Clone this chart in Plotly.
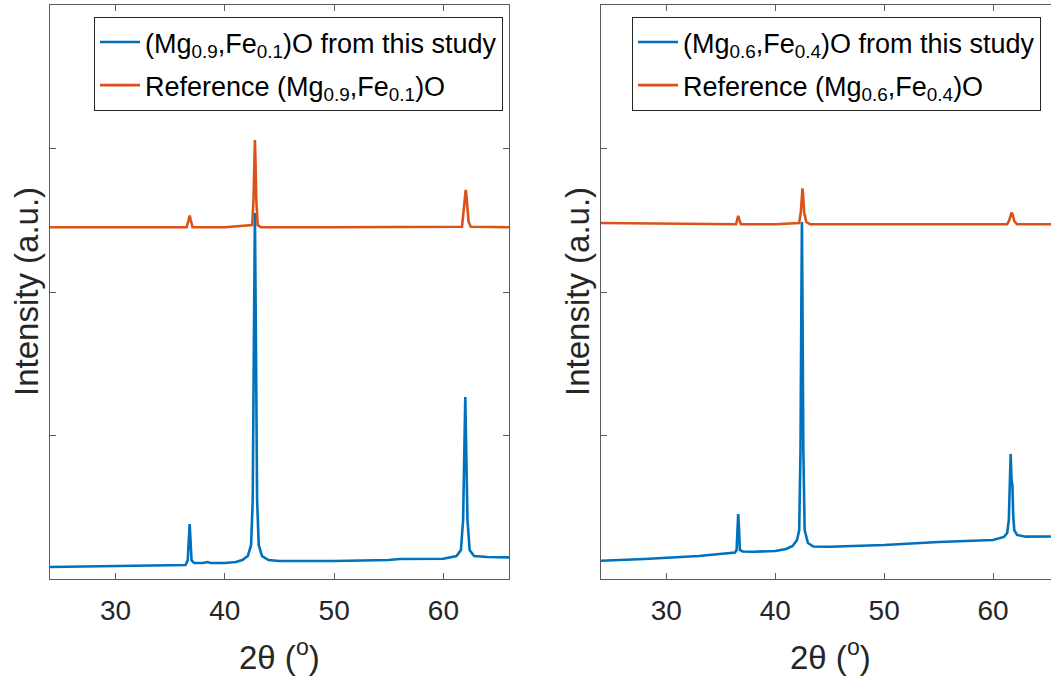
import plotly.graph_objects as go

# ---- (Mg0.9,Fe0.1)O panel -------------------------------------------------
two_theta_a_study = [24.0, 30.0, 35.0, 36.4, 36.6, 36.7, 36.78, 36.86, 36.95, 37.2,
                     38.0, 38.4, 38.7, 40.0, 41.0, 41.6, 42.1, 42.4, 42.55, 42.65,
                     42.75, 42.85, 42.95, 43.1, 43.4, 44.0, 45.0, 50.0, 55.0, 56.0,
                     60.0, 61.2, 61.6, 61.8, 61.9, 62.0, 62.1, 62.2, 62.4, 62.8,
                     64.0, 66.0]
intensity_a_study = [0.084, 0.091, 0.098, 0.098, 0.13, 0.27, 0.383, 0.27, 0.13, 0.111,
                     0.111, 0.118, 0.112, 0.111, 0.118, 0.132, 0.16, 0.237, 0.551, 1.596,
                     2.551, 1.596, 0.551, 0.237, 0.16, 0.132, 0.125, 0.125, 0.132, 0.139,
                     0.141, 0.16, 0.202, 0.411, 0.829, 1.268, 0.829, 0.411, 0.202, 0.16,
                     0.153, 0.151]

two_theta_a_ref = [24.0, 30.0, 36.5, 36.68, 36.78, 36.88, 37.05, 40.0, 42.5, 42.62,
                   42.7, 42.75, 42.8, 42.88, 43.0, 43.3, 50.0, 61.7, 61.9, 62.0,
                   62.04, 62.08, 62.15, 62.3, 62.5, 66.0]
intensity_a_ref = [2.451, 2.451, 2.451, 2.5, 2.532, 2.5, 2.451, 2.451, 2.467, 2.641,
                   2.92, 3.059, 2.92, 2.641, 2.467, 2.451, 2.451, 2.455, 2.606, 2.711,
                   2.711, 2.69, 2.629, 2.49, 2.455, 2.451]

# ---- (Mg0.6,Fe0.4)O panel -------------------------------------------------
two_theta_b_study = [24.0, 28.0, 33.0, 36.3, 36.45, 36.52, 36.6, 36.68, 36.75, 37.0,
                     38.0, 40.0, 41.0, 41.6, 42.0, 42.2, 42.32, 42.4, 42.45, 42.5,
                     42.58, 42.7, 43.0, 43.5, 45.0, 50.0, 55.0, 60.0, 61.0, 61.3,
                     61.45, 61.55, 61.62, 61.7, 61.78, 61.85, 61.95, 62.2, 63.0, 66.0]
intensity_b_study = [0.127, 0.139, 0.16, 0.185, 0.202, 0.341, 0.453, 0.341, 0.202, 0.192,
                     0.19, 0.195, 0.209, 0.23, 0.272, 0.341, 0.899, 1.944, 2.488, 1.944,
                     0.899, 0.341, 0.251, 0.226, 0.225, 0.237, 0.258, 0.272, 0.293, 0.321,
                     0.411, 0.69, 0.871, 0.69, 0.655, 0.446, 0.341, 0.307, 0.295, 0.296]

two_theta_b_ref = [24.0, 30.0, 36.4, 36.5, 36.6, 36.7, 36.85, 40.0, 42.2, 42.35,
                   42.45, 42.5, 42.56, 42.65, 42.85, 43.2, 50.0, 61.3, 61.5, 61.62,
                   61.7, 61.8, 61.95, 62.2, 66.0]
intensity_b_ref = [2.481, 2.476, 2.472, 2.502, 2.53, 2.502, 2.472, 2.472, 2.481, 2.557,
                   2.676, 2.723, 2.676, 2.557, 2.488, 2.472, 2.472, 2.472, 2.502, 2.544,
                   2.553, 2.54, 2.495, 2.472, 2.472]

labels_a = ["(Mg<sub>0.9</sub>,Fe<sub>0.1</sub>)O from this study",
            "Reference (Mg<sub>0.9</sub>,Fe<sub>0.1</sub>)O"]
labels_b = ["(Mg<sub>0.6</sub>,Fe<sub>0.4</sub>)O from this study",
            "Reference (Mg<sub>0.6</sub>,Fe<sub>0.4</sub>)O"]

x_ticks = [30, 40, 50, 60]
y_ticks = [0, 1, 2, 3, 4]

BLUE = "#0072BD"
ORANGE = "#D95319"
AXIS = "#5a5a5a"
TEXT = "#262626"
FONT = "Liberation Sans, Arial, sans-serif"

W, H = 1051, 680
left_px, bottom_px, top_px = 50, 579, 5

fig = go.Figure()

series = [
    (two_theta_a_study, intensity_a_study, BLUE, labels_a[0], "x", "y", "legend", "a1"),
    (two_theta_a_ref, intensity_a_ref, ORANGE, labels_a[1], "x", "y", "legend", "a2"),
    (two_theta_b_study, intensity_b_study, BLUE, labels_b[0], "x2", "y2", "legend2", "b1"),
    (two_theta_b_ref, intensity_b_ref, ORANGE, labels_b[1], "x2", "y2", "legend2", "b2"),
]
for xs, ys, color, name, xa, ya, leg, grp in series:
    fig.add_trace(go.Scatter(x=xs, y=ys, mode="lines",
                             line=dict(color=color, width=2.6), name=name,
                             xaxis=xa, yaxis=ya, legend=leg, legendgroup=grp))

y_dom = [(H - bottom_px) / H, (H - top_px) / H]

common_x = dict(showgrid=False, zeroline=False, showline=True, linecolor=AXIS,
                linewidth=1, ticks="inside", ticklen=6, tickcolor=AXIS,
                tickvals=x_ticks, tickfont=dict(size=28, color=TEXT, family=FONT),
                ticklabelstandoff=6, mirror="ticks")
common_y = dict(showgrid=False, zeroline=False, showline=True, linecolor=AXIS,
                linewidth=1, ticks="inside", ticklen=6, tickcolor=AXIS,
                tickvals=y_ticks, showticklabels=False, range=[0, 4], domain=y_dom)

legend_style = dict(y=1 - 17 / H, yanchor="top", xanchor="right",
                    bordercolor=TEXT, borderwidth=1, bgcolor="white",
                    font=dict(size=27, color="black", family=FONT),
                    tracegroupgap=5, itemwidth=40)

fig.update_layout(
    width=W, height=H,
    margin=dict(l=0, r=0, t=0, b=0),
    paper_bgcolor="white", plot_bgcolor="white",
    font=dict(family=FONT, color=TEXT),
    xaxis=dict(common_x, domain=[left_px / W, 509 / W], range=[24, 66], anchor="y"),
    yaxis=dict(common_y, anchor="x", mirror="ticks"),
    xaxis2=dict(common_x, domain=[601 / W, 1.0], range=[24, 24 + 450 / 10.89],
                anchor="y2"),
    yaxis2=dict(common_y, anchor="x2", mirror=False),
    legend=dict(legend_style, x=503 / W),
    legend2=dict(legend_style, x=1041 / W),
    showlegend=True,
)

# Axis titles
for cx in (279.5 / W, 830 / W):
    fig.add_annotation(text="2θ (<sup>o</sup>)", x=cx, y=1 - 655 / H,
                       xref="paper", yref="paper", xanchor="center", yanchor="middle",
                       showarrow=False, font=dict(size=33, color=TEXT, family=FONT))
for cx in (26 / W, 577 / W):
    fig.add_annotation(text="Intensity (a.u.)", x=cx, y=1 - 292 / H,
                       xref="paper", yref="paper", xanchor="center", yanchor="middle",
                       showarrow=False, textangle=-90,
                       font=dict(size=33, color=TEXT, family=FONT))

fig.write_html("out.html")
